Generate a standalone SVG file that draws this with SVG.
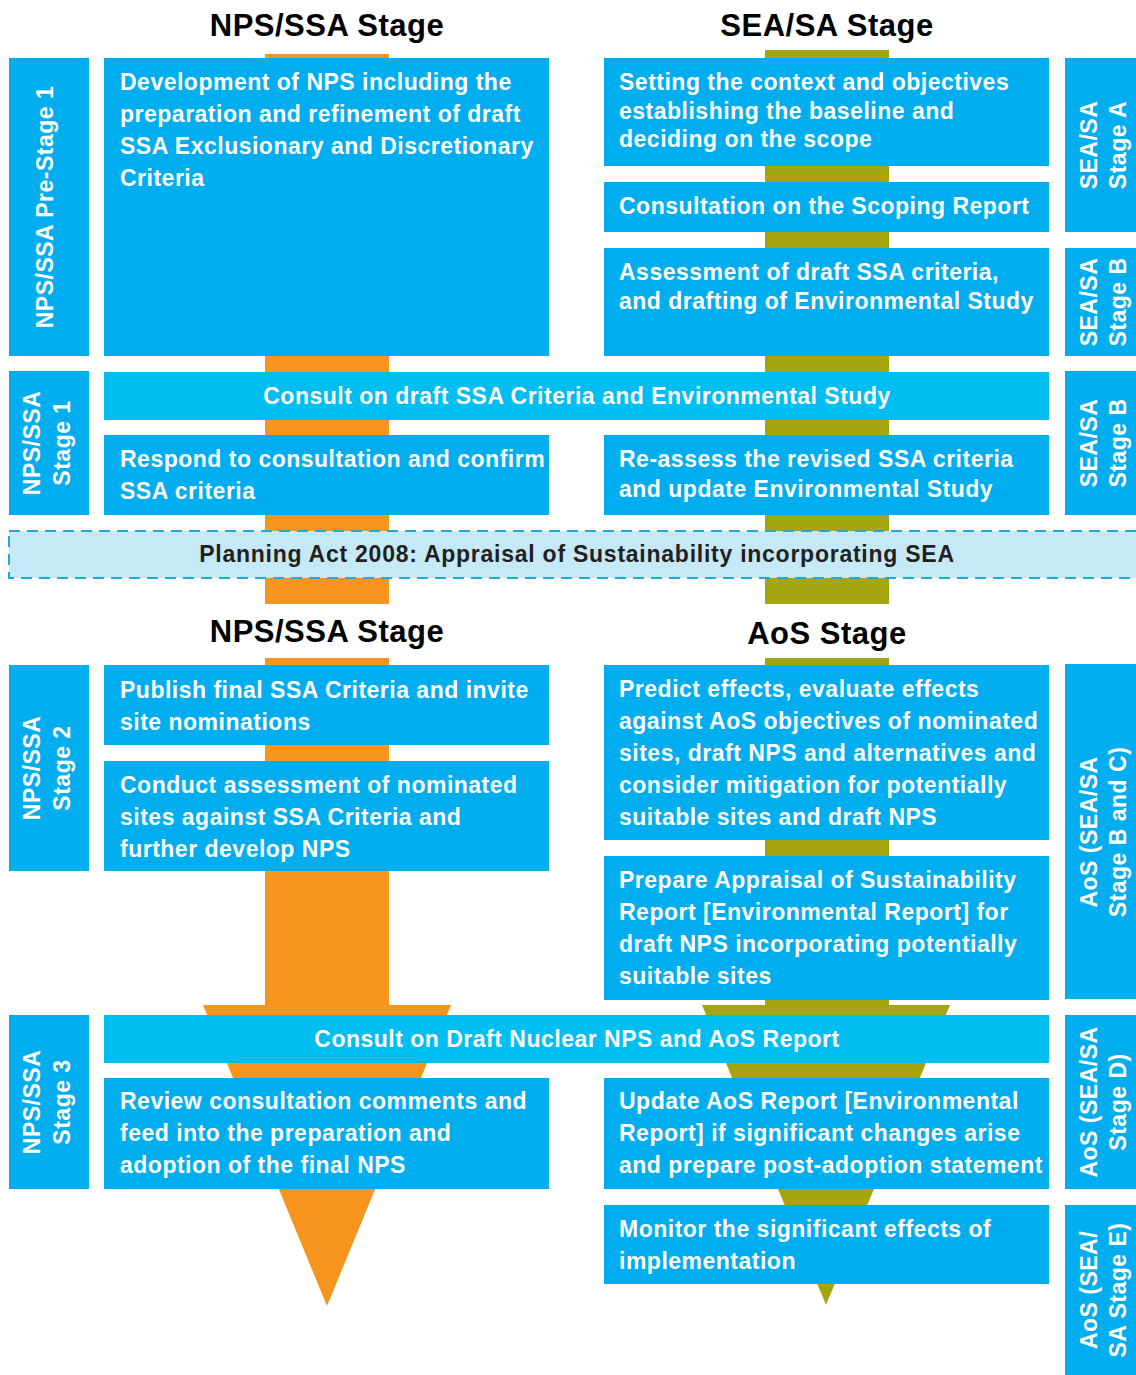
<svg xmlns="http://www.w3.org/2000/svg" width="1136" height="1375" viewBox="0 0 1136 1375">
<style>
.box{fill:#00AEEF}
.cbar{fill:#00BDF2}
.t{font-family:"Liberation Sans",Arial,sans-serif;font-weight:bold;font-size:23px;fill:#FFFFFF;letter-spacing:0.5px}
.c{text-anchor:middle}
.title{font-family:"Liberation Sans",Arial,sans-serif;font-weight:bold;font-size:31px;fill:#000000;letter-spacing:0.5px;text-anchor:middle}
.orange{fill:#F7941E}
.olive{fill:#A3A511}
</style>
<rect width="1136" height="1375" fill="#FFFFFF"/>

<g id="connectors">
  <rect class="orange" x="265" y="54" width="124" height="550"/>
  <rect class="olive" x="765" y="50" width="124" height="554"/>
  <path class="orange" d="M265 658 H389 V1005 H451 L327 1306 L203 1005 H265 Z"/>
  <path class="olive" d="M765 658 H889 V1005 H950 L826 1305 L702 1005 H765 Z"/>
</g>

<g id="titles">
  <text class="title" x="327" y="36">NPS/SSA Stage</text>
  <text class="title" x="827" y="36">SEA/SA Stage</text>
  <text class="title" x="327" y="642">NPS/SSA Stage</text>
  <text class="title" x="827" y="644">AoS Stage</text>
</g>

<g id="label-prestage1">
  <rect class="box" x="9" y="58" width="80" height="298"/>
  <text class="t c" transform="translate(53,207) rotate(-90)">NPS/SSA Pre-Stage 1</text>
</g>
<g id="node-development">
  <rect class="box" x="104" y="58" width="445" height="298"/>
  <text class="t" x="120" y="90">Development of NPS including the</text>
  <text class="t" x="120" y="122">preparation and refinement of draft</text>
  <text class="t" x="120" y="154">SSA Exclusionary and Discretionary</text>
  <text class="t" x="120" y="186">Criteria</text>
</g>
<g id="node-setting">
  <rect class="box" x="604" y="58" width="445" height="108"/>
  <text class="t" x="619" y="90">Setting the context and objectives</text>
  <text class="t" x="619" y="118.5">establishing the baseline and</text>
  <text class="t" x="619" y="147">deciding on the scope</text>
</g>
<g id="node-scoping">
  <rect class="box" x="604" y="182" width="445" height="50"/>
  <text class="t" x="619" y="214">Consultation on the Scoping Report</text>
</g>
<g id="label-stageA">
  <rect class="box" x="1065" y="58" width="75" height="174"/>
  <text class="t c" transform="translate(1097,145) rotate(-90)"><tspan x="0" y="0">SEA/SA</tspan><tspan x="0" y="29">Stage A</tspan></text>
</g>
<g id="node-assessment">
  <rect class="box" x="604" y="248" width="445" height="108"/>
  <text class="t" x="619" y="280">Assessment of draft SSA criteria,</text>
  <text class="t" x="619" y="309">and drafting of Environmental Study</text>
</g>
<g id="label-stageB1">
  <rect class="box" x="1065" y="248" width="75" height="108"/>
  <text class="t c" transform="translate(1097,302) rotate(-90)"><tspan x="0" y="0">SEA/SA</tspan><tspan x="0" y="29">Stage B</tspan></text>
</g>

<g id="node-consult1">
  <rect class="cbar" x="104" y="372" width="945" height="48"/>
  <text class="t c" x="577" y="404">Consult on draft SSA Criteria and Environmental Study</text>
</g>
<g id="label-stage1">
  <rect class="box" x="9" y="371" width="80" height="144"/>
  <text class="t c" transform="translate(40,443) rotate(-90)"><tspan x="0" y="0">NPS/SSA</tspan><tspan x="0" y="30">Stage 1</tspan></text>
</g>
<g id="node-respond">
  <rect class="box" x="104" y="435" width="445" height="80"/>
  <text class="t" x="120" y="467">Respond to consultation and confirm</text>
  <text class="t" x="120" y="498.5">SSA criteria</text>
</g>
<g id="node-reassess">
  <rect class="box" x="604" y="435" width="445" height="80"/>
  <text class="t" x="619" y="467">Re-assess the revised SSA criteria</text>
  <text class="t" x="619" y="496.5">and update Environmental Study</text>
</g>
<g id="label-stageB2">
  <rect class="box" x="1065" y="371" width="75" height="144"/>
  <text class="t c" transform="translate(1097,443) rotate(-90)"><tspan x="0" y="0">SEA/SA</tspan><tspan x="0" y="29">Stage B</tspan></text>
</g>

<g id="node-planning">
  <rect x="9" y="531" width="1140" height="47" fill="#C6E9F8" stroke="#1FA9E1" stroke-width="2" stroke-dasharray="11,7"/>
  <text class="t c" x="577" y="562" style="fill:#231F20;letter-spacing:0.75px">Planning Act 2008: Appraisal of Sustainability incorporating SEA</text>
</g>

<g id="label-stage2">
  <rect class="box" x="9" y="665" width="80" height="206"/>
  <text class="t c" transform="translate(40,768) rotate(-90)"><tspan x="0" y="0">NPS/SSA</tspan><tspan x="0" y="30">Stage 2</tspan></text>
</g>
<g id="node-publish">
  <rect class="box" x="104" y="665" width="445" height="80"/>
  <text class="t" x="120" y="698">Publish final SSA Criteria and invite</text>
  <text class="t" x="120" y="730">site nominations</text>
</g>
<g id="node-conduct">
  <rect class="box" x="104" y="761" width="445" height="110"/>
  <text class="t" x="120" y="793">Conduct assessment of nominated</text>
  <text class="t" x="120" y="825">sites against SSA Criteria and</text>
  <text class="t" x="120" y="857">further develop NPS</text>
</g>
<g id="node-predict">
  <rect class="box" x="604" y="665" width="445" height="175"/>
  <text class="t" x="619" y="697">Predict effects, evaluate effects</text>
  <text class="t" x="619" y="729">against AoS objectives of nominated</text>
  <text class="t" x="619" y="761">sites, draft NPS and alternatives and</text>
  <text class="t" x="619" y="793">consider mitigation for potentially</text>
  <text class="t" x="619" y="825">suitable sites and draft NPS</text>
</g>
<g id="node-prepare">
  <rect class="box" x="604" y="856" width="445" height="144"/>
  <text class="t" x="619" y="888">Prepare Appraisal of Sustainability</text>
  <text class="t" x="619" y="920">Report [Environmental Report] for</text>
  <text class="t" x="619" y="952">draft NPS incorporating potentially</text>
  <text class="t" x="619" y="984">suitable sites</text>
</g>
<g id="label-stageBC">
  <rect class="box" x="1065" y="664" width="75" height="335"/>
  <text class="t c" transform="translate(1097,832) rotate(-90)"><tspan x="0" y="0">AoS (SEA/SA</tspan><tspan x="0" y="29">Stage B and C)</tspan></text>
</g>

<g id="node-consult2">
  <rect class="cbar" x="104" y="1015" width="945" height="48"/>
  <text class="t c" x="577" y="1047">Consult on Draft Nuclear NPS and AoS Report</text>
</g>
<g id="label-stage3">
  <rect class="box" x="9" y="1015" width="80" height="174"/>
  <text class="t c" transform="translate(40,1102) rotate(-90)"><tspan x="0" y="0">NPS/SSA</tspan><tspan x="0" y="30">Stage 3</tspan></text>
</g>
<g id="node-review">
  <rect class="box" x="104" y="1078" width="445" height="111"/>
  <text class="t" x="120" y="1109">Review consultation comments and</text>
  <text class="t" x="120" y="1141">feed into the preparation and</text>
  <text class="t" x="120" y="1173">adoption of the final NPS</text>
</g>
<g id="node-update">
  <rect class="box" x="604" y="1078" width="445" height="111"/>
  <text class="t" x="619" y="1109">Update AoS Report [Environmental</text>
  <text class="t" x="619" y="1141">Report] if significant changes arise</text>
  <text class="t" x="619" y="1173">and prepare post-adoption statement</text>
</g>
<g id="label-stageD">
  <rect class="box" x="1065" y="1015" width="75" height="174"/>
  <text class="t c" transform="translate(1097,1102) rotate(-90)"><tspan x="0" y="0">AoS (SEA/SA</tspan><tspan x="0" y="29">Stage D)</tspan></text>
</g>
<g id="node-monitor">
  <rect class="box" x="604" y="1205" width="445" height="79"/>
  <text class="t" x="619" y="1237">Monitor the significant effects of</text>
  <text class="t" x="619" y="1269">implementation</text>
</g>
<g id="label-stageE">
  <rect class="box" x="1065" y="1205" width="75" height="170"/>
  <text class="t c" transform="translate(1097,1290) rotate(-90)"><tspan x="0" y="0">AoS (SEA/</tspan><tspan x="0" y="29">SA Stage E)</tspan></text>
</g>
</svg>
